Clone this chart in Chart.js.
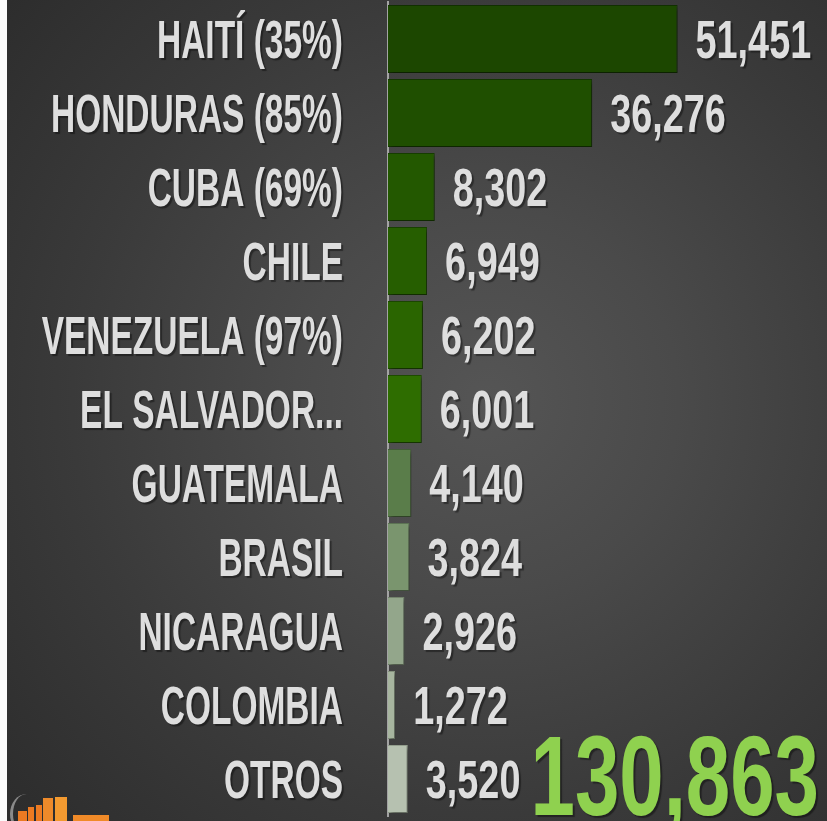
<!DOCTYPE html>
<html>
<head>
<meta charset="utf-8">
<script src="https://cdn.jsdelivr.net/npm/chart.js@4.4.1/dist/chart.umd.min.js"></script>
<style>
  html, body { margin: 0; padding: 0; background: #fbfbfb; overflow: hidden; }
  #wrap {
    position: absolute; left: 7px; top: 0; width: 820px; height: 821px; overflow: hidden;
    background: radial-gradient(circle at 480px 400px, #555555 0%, #4a4a4a 30%, #3a3a3a 65%, #2c2c2c 100%);
  }
  #chart { position: absolute; left: -7px; top: 0; }
  /* cropped logo in the bottom-left corner */
  .logo { position: absolute; background: #ec7a22; }
  .arc { position: absolute; left: 3px; top: 794px; width: 30px; height: 40px;
         border-left: 3px solid #8a8a8a; border-radius: 50%; }
</style>
</head>
<body>
<div id="wrap">
  <div class="arc"></div>
  <div class="logo" style="left:11px;top:811px;width:9px;height:10px"></div>
  <div class="logo" style="left:21px;top:807px;width:6px;height:14px"></div>
  <div class="logo" style="left:29px;top:805px;width:6px;height:16px"></div>
  <div class="logo" style="left:36px;top:798px;width:10px;height:23px;background:#ee8a2a"></div>
  <div class="logo" style="left:48px;top:797px;width:12px;height:24px;background:#f39a30"></div>
  <div class="logo" style="left:66px;top:815px;width:36px;height:6px;background:#f08a28"></div>
  <canvas id="chart" width="827" height="821"></canvas>
</div>
<script>
// ---- data ----
const labels = ['HAITÍ (35%)', 'HONDURAS (85%)', 'CUBA (69%)', 'CHILE', 'VENEZUELA (97%)', 'EL SALVADOR...',
                'GUATEMALA', 'BRASIL', 'NICARAGUA', 'COLOMBIA', 'OTROS'];
const values = [51451, 36276, 8302, 6949, 6202, 6001, 4140, 3824, 2926, 1272, 3520];
const barColors = ['#1c4700', '#1f4f00', '#235800', '#265e00', '#2a6500', '#2e6d00',
                   '#5a7d4a', '#7a956e', '#93a68b', '#a7b59f', '#b6c1b0'];
const borderColors = ['#123100', '#143800', '#173e00', '#194200', '#1c4700', '#1f4d00',
                      '#445f38', '#5e7555', '#75856e', '#87947f', '#95a08f'];

const total = values.reduce((s, v) => s + v, 0);
const fmt = v => v.toLocaleString('en-US');

// condensed look: regular font squeezed horizontally
function drawText(ctx, text, x, y, size, align, sx, color) {
  ctx.save();
  ctx.translate(x, y);
  ctx.scale(sx, 1);
  ctx.font = 'bold ' + size + 'px "Liberation Sans", Arial, sans-serif';
  ctx.textAlign = align;
  ctx.textBaseline = 'alphabetic';
  ctx.shadowColor = 'rgba(0,0,0,0.4)';
  ctx.shadowOffsetX = 2;
  ctx.shadowOffsetY = 2;
  ctx.shadowBlur = 1;
  ctx.fillStyle = color;
  ctx.fillText(text, 0, 0);
  ctx.restore();
}

const barShadow = {
  id: 'barShadow',
  beforeDatasetsDraw(chart) {
    const ctx = chart.ctx;
    ctx.save();
    ctx.shadowColor = 'rgba(0,0,0,0.35)';
    ctx.shadowOffsetX = 3;
    ctx.shadowOffsetY = 3;
    ctx.shadowBlur = 4;
  },
  afterDatasetsDraw(chart) {
    chart.ctx.restore();
  }
};

const textLayer = {
  id: 'textLayer',
  afterDraw(chart) {
    const ctx = chart.ctx;
    const yScale = chart.scales.y;
    const meta = chart.getDatasetMeta(0);
    const size = 54;
    const capShift = size * 0.358;
    labels.forEach((lab, i) => {
      const cy = yScale.getPixelForValue(i);
      drawText(ctx, lab, chart.chartArea.left - 45, cy + capShift, size, 'right', 0.62, '#dedede');
      const bar = meta.data[i];
      drawText(ctx, fmt(values[i]), bar.x + 18, cy + capShift, size, 'left', 0.7, '#dedede');
    });
    // grand total
    drawText(ctx, fmt(total), 819, 815, 114, 'right', 0.70, '#8fd14f');
  }
};

new Chart(document.getElementById('chart'), {
  type: 'bar',
  data: {
    labels: labels,
    datasets: [{
      data: values,
      backgroundColor: barColors,
      borderColor: borderColors,
      borderWidth: 1,
      borderSkipped: 'left',
      barPercentage: 0.92,
      categoryPercentage: 1.0
    }]
  },
  options: {
    indexAxis: 'y',
    responsive: false,
    animation: false,
    layout: { padding: { top: 2, bottom: 5, left: 0, right: 0 } },
    plugins: { legend: { display: false }, tooltip: { enabled: false } },
    scales: {
      x: { display: false, min: 0, max: 78000 },
      y: {
        offset: true,
        grid: { display: false },
        border: { display: true, color: '#a3a3a3', width: 2 },
        ticks: { display: false },
        afterFit(axis) { axis.width = 388; }
      }
    }
  },
  plugins: [barShadow, textLayer]
});
</script>
</body>
</html>
